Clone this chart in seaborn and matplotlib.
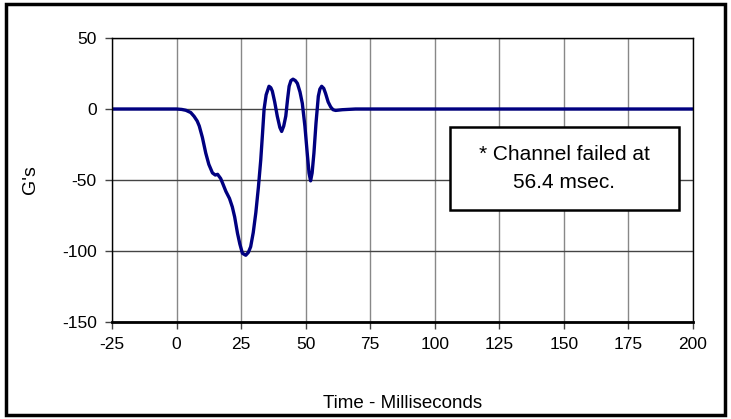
import matplotlib
matplotlib.use("Agg")
import matplotlib.pyplot as plt
from matplotlib import font_manager
from matplotlib.patches import Rectangle
import seaborn as sns
import pandas as pd

# acceleration trace
time_ms = [-25, 0, 2, 3.6, 5.5, 6.8, 8.0, 8.8, 10, 11.3, 12.5, 13.9, 15.0, 15.9,
           17.1, 18.0, 19.1, 20.5, 21.6, 22.5, 23.6, 24.5, 25.5, 26.8, 27.8,
           28.7, 29.7, 30.7, 31.7, 32.6, 33.3, 33.9, 34.7, 35.8, 36.5, 37.1,
           38, 39, 40, 40.7, 41.5, 42.3, 43, 43.6, 44.3, 45.1, 46, 46.8, 47.8,
           48.7, 49.7, 50.6, 51.3, 51.9, 52.5, 53.2, 54.0, 54.9, 55.5, 56.2,
           57.0, 57.7, 58.7, 59.7, 60.6, 61.6, 64.2, 69.3, 200]
g_vals = [0, 0, -0.3, -0.9, -2.5, -5.2, -8.5, -12, -20, -31, -39, -45, -46.5, -46,
          -49, -53, -58, -63, -69, -76, -87.5, -95, -101.6, -103, -101,
          -97, -87, -73, -55, -36, -17, 0, 10, 16, 15, 12.5,
          5, -5, -13, -15.8, -12, -5, 7, 16, 20, 21, 20, 18, 12,
          4, -12, -31, -45, -50.6, -45, -31, -10, 9, 14, 16,
          14.5, 11, 5, 1.4, -0.5, -1, -0.5, 0, 0]

x_ticks = [-25, 0, 25, 50, 75, 100, 125, 150, 175, 200]
y_ticks = [50, 0, -50, -100, -150]
note = "* Channel failed at\n56.4 msec."

df = pd.DataFrame({"t": time_ms, "g": g_vals})

sns.set_style("white")
plt.rcParams['font.family'] = ['Liberation Sans', 'DejaVu Sans']
plt.rcParams['axes.unicode_minus'] = False
plt.rcParams['text.color'] = 'black'
plt.rcParams['axes.labelcolor'] = 'black'
plt.rcParams['xtick.color'] = 'black'
plt.rcParams['ytick.color'] = 'black'

# tick labels and x title use a condensed face in the original
names = {f.name for f in font_manager.fontManager.ttflist}
if "Liberation Sans Narrow" in names:
    narrow, nsize = "Liberation Sans Narrow", 15
else:
    narrow, nsize = "Liberation Sans", 12.5

fig = plt.figure(figsize=(7.31, 4.19), dpi=100)
ax = fig.add_axes([112 / 731, 1 - 322 / 419, (693 - 112) / 731, (322 - 38) / 419])

sns.lineplot(data=df, x="t", y="g", ax=ax, color="#000080", linewidth=2.4)

ax.set_xlim(-25, 200)
ax.set_ylim(-150, 50)
ax.set_xticks(x_ticks)
ax.set_yticks(y_ticks)

for t in x_ticks:
    ax.axvline(t, color="#888888", linewidth=1, zorder=0)
for v in y_ticks:
    ax.axhline(v, color="#444444", linewidth=1, zorder=0)

for side in ["left", "top", "right"]:
    ax.spines[side].set_color("black")
    ax.spines[side].set_linewidth(1)
ax.spines["bottom"].set_color("black")
ax.spines["bottom"].set_linewidth(2)

ax.tick_params(axis="both", direction="out", length=5, width=1, color="#444444",
               pad=6, left=True, bottom=True, labelcolor="black")
for lab in ax.get_xticklabels() + ax.get_yticklabels():
    lab.set_family(narrow)
    lab.set_fontsize(nsize)

ax.set_xlabel("Time - Milliseconds", family=narrow, fontsize=nsize + 1)
ax.set_ylabel("G's", fontsize=14)
ax.xaxis.set_label_coords(0.5, -(403 - 322) / 284, transform=ax.transAxes)
ax.yaxis.set_label_coords(-(112 - 30) / 581, 0.5, transform=ax.transAxes)
ax.xaxis.label.set_va("center")
ax.yaxis.label.set_va("center")

ax.add_patch(Rectangle((105.9, -71), 88.7, 58.6, facecolor="white",
                       edgecolor="black", linewidth=1.8, zorder=5))
ax.text(150.2, -41.7, note, ha="center", va="center", fontsize=15,
        linespacing=1.6, zorder=6)

fig.patches.append(Rectangle((0.008, 0.01), 0.984, 0.98, transform=fig.transFigure,
                             fill=False, edgecolor="black", linewidth=2.5))

fig.savefig("out.png", dpi=100)
